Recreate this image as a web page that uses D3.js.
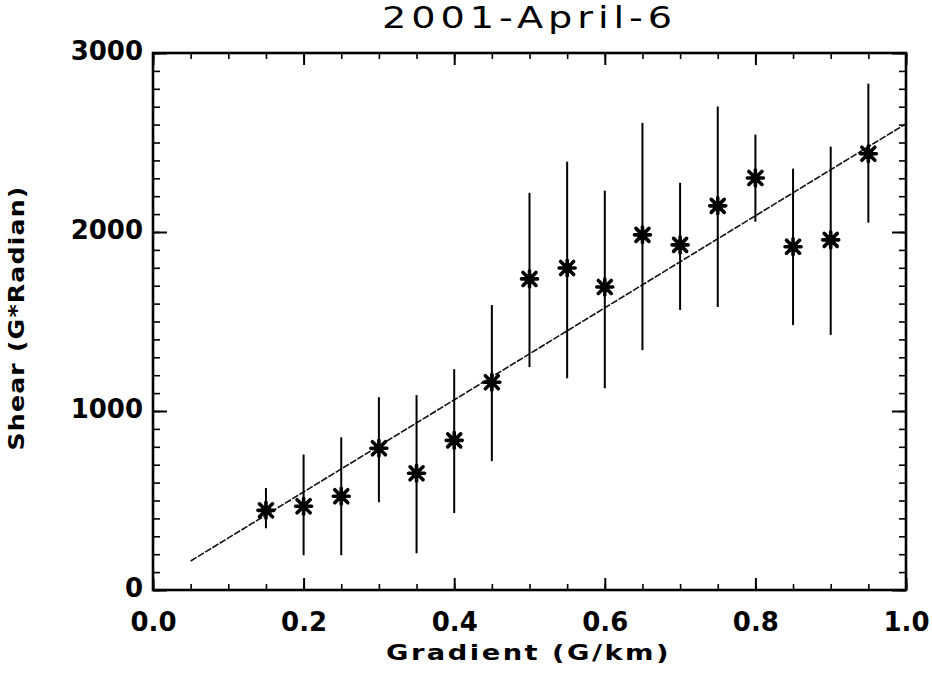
<!DOCTYPE html>
<html>
<head>
<meta charset="utf-8">
<script src="https://cdn.jsdelivr.net/npm/d3@7"></script>
<style>
  body { margin: 0; background: #fff; }
  text { font-family: "DejaVu Sans", sans-serif; fill: #000; }
  .axis path, .axis line { stroke: #000; }
</style>
</head>
<body>
<div id="chart"></div>
<script>
// data
const gradient = [0.15, 0.20, 0.25, 0.30, 0.35, 0.40, 0.45, 0.50, 0.55, 0.60, 0.65, 0.70, 0.75, 0.80, 0.85, 0.90, 0.95];
const shear    = [445, 468, 524, 792, 652, 836, 1161, 1738, 1799, 1693, 1984, 1928, 2146, 2302, 1918, 1956, 2437];
const errLow   = [345, 194, 194, 490, 205, 430, 720, 1245, 1183, 1127, 1340, 1564, 1581, 2057, 1480, 1425, 2052];
const errHigh  = [570, 757, 853, 1077, 1089, 1234, 1592, 2219, 2393, 2231, 2610, 2275, 2701, 2544, 2354, 2477, 2829];

// least squares line as drawn
const fitX = [0.05, 1.0];
const fitY = [162, 2605];

const xTicks = [0.0, 0.2, 0.4, 0.6, 0.8, 1.0];
const yTicks = [0, 1000, 2000, 3000];

const W = 932, H = 681;
const margin = { top: 53, right: 26, bottom: 91, left: 153 };
const width = W - margin.left - margin.right;
const height = H - margin.top - margin.bottom;

const svg = d3.select("#chart").append("svg")
    .attr("width", W).attr("height", H);

const g = svg.append("g")
    .attr("transform", `translate(${margin.left},${margin.top})`);

const x = d3.scaleLinear().domain([0, 1]).range([0, width]);
const y = d3.scaleLinear().domain([0, 3000]).range([height, 0]);

const xMinor = d3.range(0, 1.0001, 0.05).map(v => +v.toFixed(2));
const yMinor = d3.range(0, 3001, 100);

// minor ticks, pointing inward on all four sides
const minorSpecs = [
    [d3.axisBottom(x).tickValues(xMinor).tickSize(-6), `translate(0,${height})`],
    [d3.axisTop(x).tickValues(xMinor).tickSize(-6), null],
    [d3.axisLeft(y).tickValues(yMinor).tickSize(-7), null],
    [d3.axisRight(y).tickValues(yMinor).tickSize(-7), `translate(${width},0)`]
];
minorSpecs.forEach(([ax, tr]) => {
    const a = g.append("g").attr("class", "axis").call(ax.tickFormat(""));
    if (tr) a.attr("transform", tr);
    a.select(".domain").remove();
    a.selectAll("line").attr("stroke-width", 1.6);
});

// major ticks + labels
const xAxisB = g.append("g").attr("class", "axis")
    .attr("transform", `translate(0,${height})`)
    .call(d3.axisBottom(x).tickValues(xTicks).tickSize(-12).tickPadding(23).tickFormat(d3.format(".1f")));
const xAxisT = g.append("g").attr("class", "axis")
    .call(d3.axisTop(x).tickValues(xTicks).tickSize(-12).tickFormat(""));
const yAxisL = g.append("g").attr("class", "axis")
    .call(d3.axisLeft(y).tickValues(yTicks).tickSize(-14).tickPadding(10).tickFormat(d3.format("d")));
const yAxisR = g.append("g").attr("class", "axis")
    .attr("transform", `translate(${width},0)`)
    .call(d3.axisRight(y).tickValues(yTicks).tickSize(-14).tickFormat(""));

[xAxisB, xAxisT, yAxisL, yAxisR].forEach(a => {
    a.select(".domain").remove();
    a.selectAll("line").attr("stroke-width", 2);
    a.selectAll("text")
        .style("font-size", "26px")
        .style("font-weight", "bold");
});
yAxisL.selectAll("text").attr("dy", "0.25em");

// frame
g.append("rect")
    .attr("width", width).attr("height", height)
    .attr("fill", "none").attr("stroke", "#000").attr("stroke-width", 2.6);

// fit line
g.append("path")
    .datum(fitX.map((v, i) => [v, fitY[i]]))
    .attr("d", d3.line().x(d => x(d[0])).y(d => y(d[1])))
    .attr("fill", "none")
    .attr("stroke", "#111")
    .attr("stroke-width", 1.6)
    .attr("stroke-dasharray", "7,1.5");

// error bars
g.selectAll(".err")
    .data(gradient)
    .enter().append("line")
    .attr("class", "err")
    .attr("x1", d => x(d)).attr("x2", d => x(d))
    .attr("y1", (d, i) => y(errLow[i]))
    .attr("y2", (d, i) => y(errHigh[i]))
    .attr("stroke", "#000")
    .attr("stroke-width", 2);

// asterisk markers (psym=2 style)
const r = 8, rd = 6.5;
const star = `M${-r},0L${r},0M0,${-r}L0,${r}M${-rd},${-rd}L${rd},${rd}M${-rd},${rd}L${rd},${-rd}`;
g.selectAll(".star")
    .data(gradient)
    .enter().append("path")
    .attr("class", "star")
    .attr("transform", (d, i) => `translate(${x(d)},${y(shear[i])})`)
    .attr("d", star)
    .attr("fill", "none")
    .attr("stroke", "#000")
    .attr("stroke-width", 3.6)
    .attr("stroke-linecap", "round");

// titles
svg.append("text")
    .attr("x", margin.left + width / 2).attr("y", 28)
    .attr("text-anchor", "middle")
    .attr("textLength", 295).attr("lengthAdjust", "spacingAndGlyphs")
    .style("font-size", "31px")
    .style("letter-spacing", "4px")
    .text("2001-April-6");

svg.append("text")
    .attr("x", margin.left + width / 2 - 1).attr("y", 660)
    .attr("text-anchor", "middle")
    .attr("textLength", 285).attr("lengthAdjust", "spacingAndGlyphs")
    .style("font-size", "22px")
    .style("font-weight", "bold")
    .style("letter-spacing", "2px")
    .text("Gradient (G/km)");

svg.append("text")
    .attr("transform", "translate(24,318) rotate(-90)")
    .attr("text-anchor", "middle")
    .attr("textLength", 265).attr("lengthAdjust", "spacingAndGlyphs")
    .style("font-size", "22px")
    .style("font-weight", "bold")
    .style("letter-spacing", "1px")
    .text("Shear (G*Radian)");
</script>
</body>
</html>
